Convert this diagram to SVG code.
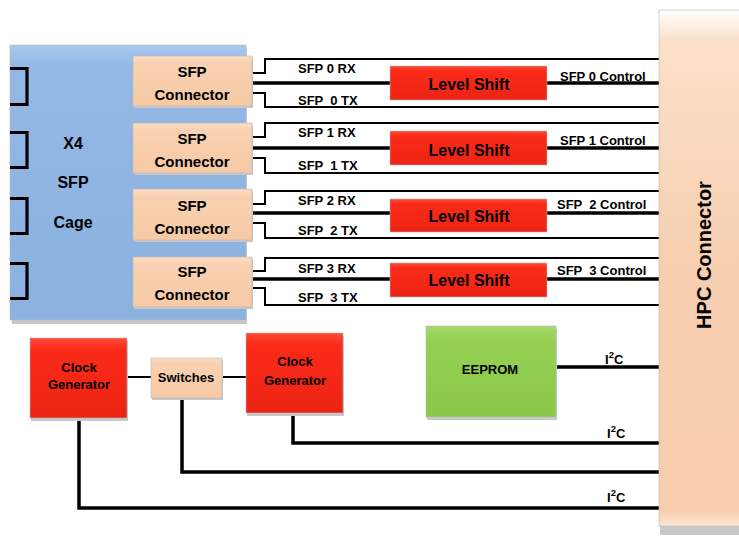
<svg xmlns="http://www.w3.org/2000/svg" width="739" height="537" viewBox="0 0 739 537">
<defs>
<linearGradient id="gCage" x1="0" y1="0" x2="0" y2="1">
<stop offset="0" stop-color="#a9c8ee"/><stop offset="0.08" stop-color="#93b8e6"/><stop offset="1" stop-color="#8bb1e0"/>
</linearGradient>
<linearGradient id="gPeach" x1="0" y1="0" x2="0" y2="1">
<stop offset="0" stop-color="#fbdcc2"/><stop offset="0.15" stop-color="#f9d1b2"/><stop offset="1" stop-color="#f6c9a4"/>
</linearGradient>
<linearGradient id="gRed" x1="0" y1="0" x2="0" y2="1">
<stop offset="0" stop-color="#ff4a36"/><stop offset="0.15" stop-color="#fb2a19"/><stop offset="1" stop-color="#ec2414"/>
</linearGradient>
<linearGradient id="gGreen" x1="0" y1="0" x2="0" y2="1">
<stop offset="0" stop-color="#a6da6c"/><stop offset="0.15" stop-color="#95d052"/><stop offset="1" stop-color="#8ac84a"/>
</linearGradient>
<linearGradient id="gHPC" x1="0" y1="0" x2="0" y2="1">
<stop offset="0" stop-color="#ffffff"/><stop offset="0.06" stop-color="#fbe0c8"/><stop offset="0.5" stop-color="#f7cfb0"/><stop offset="0.97" stop-color="#f8ceae"/><stop offset="1" stop-color="#fde6d4"/>
</linearGradient>
</defs>
<style>
text{font-family:"Liberation Sans",Arial,sans-serif;font-weight:bold;fill:#000}
.shadow{fill:#c8c8c8}
.box{stroke:#b9b9b9;stroke-width:0.6}
.thin{fill:none;stroke:#000;stroke-width:2}
.thick{fill:none;stroke:#000;stroke-width:3.5}
.br{fill:none;stroke:#000;stroke-width:3.2}
.lbl{font-size:13px}
.mid{text-anchor:middle}
</style>

<g id="sfp-cage">
<rect class="shadow" x="12" y="48" width="235" height="276"/>
<rect class="box" x="10" y="45" width="236" height="275" fill="url(#gCage)"/>
<path class="br" d="M10,68.5 H27 V104.5 H10"/>
<path class="br" d="M10,132.5 H27 V167.5 H10"/>
<path class="br" d="M10,198.5 H27 V233.5 H10"/>
<path class="br" d="M10,263.5 H27 V298.5 H10"/>
<text class="mid" x="73" y="149" font-size="16">X4</text>
<text class="mid" x="73" y="188" font-size="16">SFP</text>
<text class="mid" x="73" y="228" font-size="16">Cage</text>
</g>

<g id="connectors">
<path class="thin" d="M252,73 H265 V59 H660"/>
<path class="thick" d="M252,83 H660"/>
<path class="thin" d="M252,93 H265 V107 H660"/>
<path class="thin" d="M252,137 H265 V123 H660"/>
<path class="thick" d="M252,148 H660"/>
<path class="thin" d="M252,158 H265 V173 H660"/>
<path class="thin" d="M252,204 H265 V191 H660"/>
<path class="thick" d="M252,213 H660"/>
<path class="thin" d="M252,223 H265 V238 H660"/>
<path class="thin" d="M252,271 H265 V258 H660"/>
<path class="thick" d="M252,279 H660"/>
<path class="thin" d="M252,288 H265 V305 H660"/>
<path class="thin" d="M127,377 H151"/>
<path class="thin" d="M222,377 H246"/>
<path class="thick" d="M556,367 H660"/>
<path class="thick" d="M293,413 V443 H660"/>
<path class="thick" d="M182,398 V472 H660"/>
<path class="thick" d="M79,418 V508 H660"/>
</g>

<g id="labels">
<text class="lbl" x="298" y="73">SFP 0 RX</text>
<text class="lbl" x="298" y="105" xml:space="preserve">SFP  0 TX</text>
<text class="lbl" x="560" y="81">SFP 0 Control</text>
<text class="lbl" x="298" y="137">SFP 1 RX</text>
<text class="lbl" x="298" y="170" xml:space="preserve">SFP  1 TX</text>
<text class="lbl" x="560" y="145">SFP 1 Control</text>
<text class="lbl" x="298" y="205">SFP 2 RX</text>
<text class="lbl" x="298" y="235" xml:space="preserve">SFP  2 TX</text>
<text class="lbl" x="557" y="209" xml:space="preserve">SFP  2 Control</text>
<text class="lbl" x="298" y="273">SFP 3 RX</text>
<text class="lbl" x="298" y="302" xml:space="preserve">SFP  3 TX</text>
<text class="lbl" x="557" y="275" xml:space="preserve">SFP  3 Control</text>
<text class="lbl" x="605" y="364">I<tspan font-size="9.5" dy="-6">2</tspan><tspan dy="6">C</tspan></text>
<text class="lbl" x="607" y="438">I<tspan font-size="9.5" dy="-6">2</tspan><tspan dy="6">C</tspan></text>
<text class="lbl" x="607" y="502">I<tspan font-size="9.5" dy="-6">2</tspan><tspan dy="6">C</tspan></text>
</g>

<g id="sfp-connector-0">
<rect class="shadow" x="134" y="58" width="119" height="50"/>
<rect class="box" x="133" y="56" width="119" height="50" fill="url(#gPeach)"/>
<text class="mid" x="192" y="77" font-size="15">SFP</text>
<text class="mid" x="192" y="100" font-size="15">Connector</text>
</g>
<g id="sfp-connector-1">
<rect class="shadow" x="134" y="125" width="119" height="50"/>
<rect class="box" x="133" y="123" width="119" height="50" fill="url(#gPeach)"/>
<text class="mid" x="192" y="144" font-size="15">SFP</text>
<text class="mid" x="192" y="167" font-size="15">Connector</text>
</g>
<g id="sfp-connector-2">
<rect class="shadow" x="134" y="191" width="119" height="51"/>
<rect class="box" x="133" y="189" width="119" height="51" fill="url(#gPeach)"/>
<text class="mid" x="192" y="211" font-size="15">SFP</text>
<text class="mid" x="192" y="234" font-size="15">Connector</text>
</g>
<g id="sfp-connector-3">
<rect class="shadow" x="134" y="259" width="119" height="50"/>
<rect class="box" x="133" y="257" width="119" height="50" fill="url(#gPeach)"/>
<text class="mid" x="192" y="277" font-size="15">SFP</text>
<text class="mid" x="192" y="300" font-size="15">Connector</text>
</g>

<g id="level-shift-0">
<rect class="box" x="390" y="66" width="157" height="34" fill="url(#gRed)"/>
<text class="mid" x="469" y="90" font-size="16">Level Shift</text>
</g>
<g id="level-shift-1">
<rect class="box" x="390" y="131" width="157" height="34" fill="url(#gRed)"/>
<text class="mid" x="469" y="156" font-size="16">Level Shift</text>
</g>
<g id="level-shift-2">
<rect class="box" x="390" y="199" width="157" height="33" fill="url(#gRed)"/>
<text class="mid" x="469" y="222" font-size="16">Level Shift</text>
</g>
<g id="level-shift-3">
<rect class="box" x="390" y="263" width="157" height="34" fill="url(#gRed)"/>
<text class="mid" x="469" y="286" font-size="16">Level Shift</text>
</g>

<g id="hpc-connector">
<rect class="shadow" x="660" y="13" width="80" height="522"/>
<rect class="box" x="659" y="10" width="81" height="516" fill="url(#gHPC)"/>
<text class="mid" transform="translate(711,255) rotate(-90)" font-size="20">HPC Connector</text>
</g>

<g id="clock-generator-1">
<rect class="shadow" x="31" y="341" width="97" height="80"/>
<rect class="box" x="30" y="338" width="97" height="80" fill="url(#gRed)"/>
<text class="mid" x="79" y="372" font-size="13">Clock</text>
<text class="mid" x="79" y="389" font-size="13">Generator</text>
</g>
<g id="switches">
<rect class="shadow" x="152" y="360" width="71" height="40"/>
<rect class="box" x="151" y="358" width="71" height="40" fill="url(#gPeach)"/>
<text class="mid" x="186" y="382" font-size="13">Switches</text>
</g>
<g id="clock-generator-2">
<rect class="shadow" x="247" y="336" width="97" height="80"/>
<rect class="box" x="246" y="333" width="97" height="80" fill="url(#gRed)"/>
<text class="mid" x="295" y="366" font-size="13">Clock</text>
<text class="mid" x="295" y="385" font-size="13">Generator</text>
</g>
<g id="eeprom">
<rect class="shadow" x="427" y="329" width="130" height="91"/>
<rect class="box" x="426" y="326" width="130" height="91" fill="url(#gGreen)"/>
<text class="mid" x="490" y="374" font-size="13">EEPROM</text>
</g>
</svg>
